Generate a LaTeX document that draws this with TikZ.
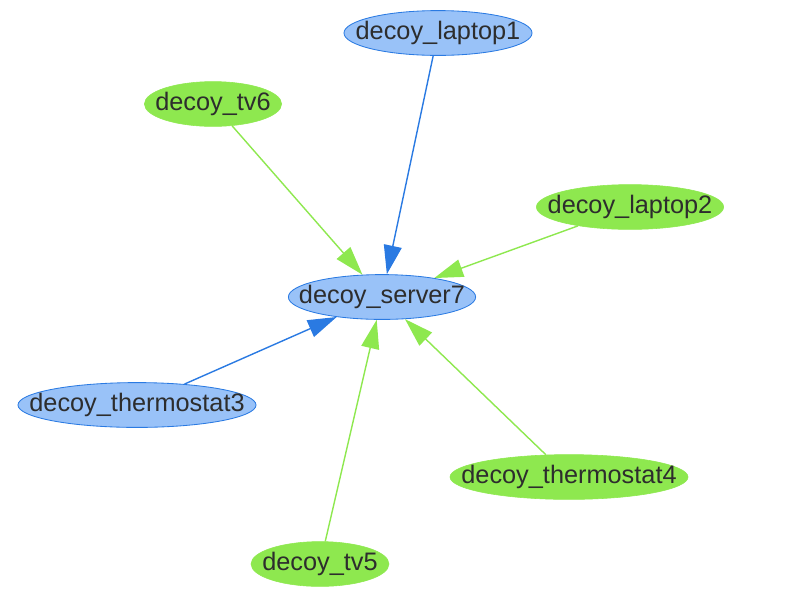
\documentclass[tikz,border=0pt]{standalone}
\usepackage{fontspec}
\setmainfont{Liberation Sans}
\usetikzlibrary{shapes.geometric, arrows.meta}
\usepackage{xcolor}
\definecolor{bluefill}{HTML}{99C2F8}
\definecolor{blueline}{HTML}{2A7AE2}
\definecolor{greenfill}{HTML}{8EE84F}
\definecolor{labeltext}{HTML}{2D2D2D}
\begin{document}
\begin{tikzpicture}[x=0.025cm, y=-0.025cm,
  every label/.style={text=labeltext, font=\fontsize{18}{20}\selectfont}]

  % styles
  \tikzstyle{device} = [ellipse, minimum height=1.12cm, inner sep=0pt]
  \tikzstyle{bluenode} = [device, fill=bluefill, draw=blueline, line width=0.6pt]
  \tikzstyle{greennode} = [device, fill=greenfill, draw=greenfill]
  \tikzstyle{bluelink} = [draw=blueline, line width=1pt, -{Triangle[length=0.72cm, width=0.45cm]}]
  \tikzstyle{greenlink} = [draw=greenfill, line width=1pt, -{Triangle[length=0.72cm, width=0.45cm]}]

  \useasboundingbox (0,0) rectangle (800,600);

  % centre
  \node (server7) [bluenode, minimum width=4.68cm, label=center:decoy\_server7] at (382,297) {};

  % around it
  \node (laptop1) [bluenode, minimum width=4.7cm, label=center:decoy\_laptop1] at (438,33) {};
  \node (tv6) [greennode, minimum width=3.43cm, label=center:decoy\_tv6] at (213,104) {};
  \node (laptop2) [greennode, minimum width=4.68cm, label=center:decoy\_laptop2] at (630,207) {};
  \node (thermostat3) [bluenode, minimum width=5.95cm, label=center:decoy\_thermostat3] at (137,405) {};
  \node (thermostat4) [greennode, minimum width=5.95cm, label=center:decoy\_thermostat4] at (569,477) {};
  \node (tv5) [greennode, minimum width=3.45cm, label=center:decoy\_tv5] at (320,564) {};

  % arrows
  \draw [bluelink] (laptop1) -- (server7);
  \draw [greenlink] (tv6) -- (server7);
  \draw [greenlink] (laptop2) -- (server7);
  \draw [bluelink] (thermostat3) -- (server7);
  \draw [greenlink] (thermostat4) -- (server7);
  \draw [greenlink] (tv5) -- (server7);

\end{tikzpicture}
\end{document}
